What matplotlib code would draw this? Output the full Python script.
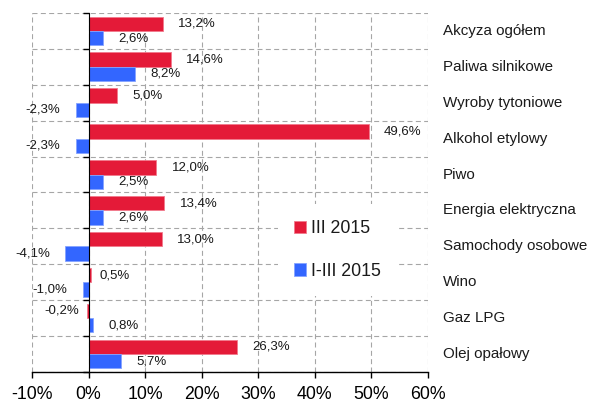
"""Excise duty revenue dynamics by product group, III 2015 vs I-III 2015."""

import matplotlib

matplotlib.use("Agg")

import matplotlib.pyplot as plt
import matplotlib.transforms as mtransforms
import numpy as np

categories = [
    "Akcyza ogółem",
    "Paliwa silnikowe",
    "Wyroby tytoniowe",
    "Alkohol etylowy",
    "Piwo",
    "Energia elektryczna",
    "Samochody osobowe",
    "Wino",
    "Gaz LPG",
    "Olej opałowy",
]
march_2015 = [13.2, 14.6, 5.0, 49.6, 12.0, 13.4, 13.0, 0.5, -0.2, 26.3]
q1_2015 = [2.6, 8.2, -2.3, -2.3, 2.5, 2.6, -4.1, -1.0, 0.8, 5.7]
series_names = ["III 2015", "I-III 2015"]
x_ticks = [-10, 0, 10, 20, 30, 40, 50, 60]

RED = "#E41A38"
BLUE = "#3366FF"


def fmt(v: float) -> str:
    return f"{v:.1f}".replace(".", ",") + "%"


def main() -> None:
    plt.rcParams["font.family"] = ["Liberation Sans", "DejaVu Sans"]
    fig = plt.figure(figsize=(5.96, 4.05), dpi=100)
    ax = fig.add_axes([0.0537, 0.0815, 0.6636, 0.8865])

    n = len(categories)
    idx = np.arange(n)
    h = 0.4
    red_bars = ax.barh(idx + 0.3, march_2015, height=h, color=RED,
                       edgecolor="#F27A8C", linewidth=0.6, label=series_names[0], zorder=3)
    blue_bars = ax.barh(idx + 0.7, q1_2015, height=h, color=BLUE,
                        edgecolor="#85A3FF", linewidth=0.6, label=series_names[1], zorder=3)

    # value labels next to bar ends
    for bars, vals in ((red_bars, march_2015), (blue_bars, q1_2015)):
        for bar, v in zip(bars, vals):
            y = bar.get_y() + bar.get_height() / 2
            off = 6 if abs(v) < 0.6 else 11
            ax.annotate(fmt(v), xy=(v, y), xytext=(off if v >= 0 else -off, 0),
                        textcoords="offset points", ha="left" if v >= 0 else "right",
                        va="center", fontsize=9.5, color="#1a1a1a", zorder=4)

    ax.set_xlim(-10, 60)
    ax.set_ylim(n, 0)
    ax.set_xticks(x_ticks)
    ax.set_xticklabels([f"{t}%" for t in x_ticks], fontsize=12.8)
    ax.set_yticks(np.arange(n + 1))
    ax.set_yticklabels([])

    ax.grid(True, color="#A6A6A6", linestyle=(0, (4.5, 3)), linewidth=0.8, zorder=0)
    ax.set_axisbelow(True)
    for side in ("top", "right"):
        ax.spines[side].set_visible(False)
    ax.spines["left"].set_position(("data", 0))
    ax.spines["left"].set_zorder(5)
    ax.spines["bottom"].set_linewidth(1.0)
    ax.tick_params(axis="x", direction="out", length=4, width=1.0, pad=6)
    ax.tick_params(axis="y", direction="out", length=4, width=1.0)

    # category names to the right of the plot
    trans = mtransforms.blended_transform_factory(ax.transAxes, ax.transData)
    for i, name in enumerate(categories):
        ax.text(1.039, i + 0.5, name, transform=trans, ha="left", va="center",
                fontsize=10.9, color="#1a1a1a")

    leg = ax.legend(loc="center", bbox_to_anchor=(0.566, 0.383),
                    bbox_transform=fig.transFigure, fontsize=12.8,
                    handlelength=0.7, handleheight=0.7, handletextpad=0.3,
                    labelspacing=1.45, frameon=True, facecolor="white",
                    edgecolor="none", framealpha=1, borderpad=0.9)
    leg.set_zorder(6)
    for t in leg.get_texts():
        t.set_color("#1a1a1a")

    fig.savefig("out.png", dpi=100)
    plt.close(fig)


if __name__ == "__main__":
    main()
